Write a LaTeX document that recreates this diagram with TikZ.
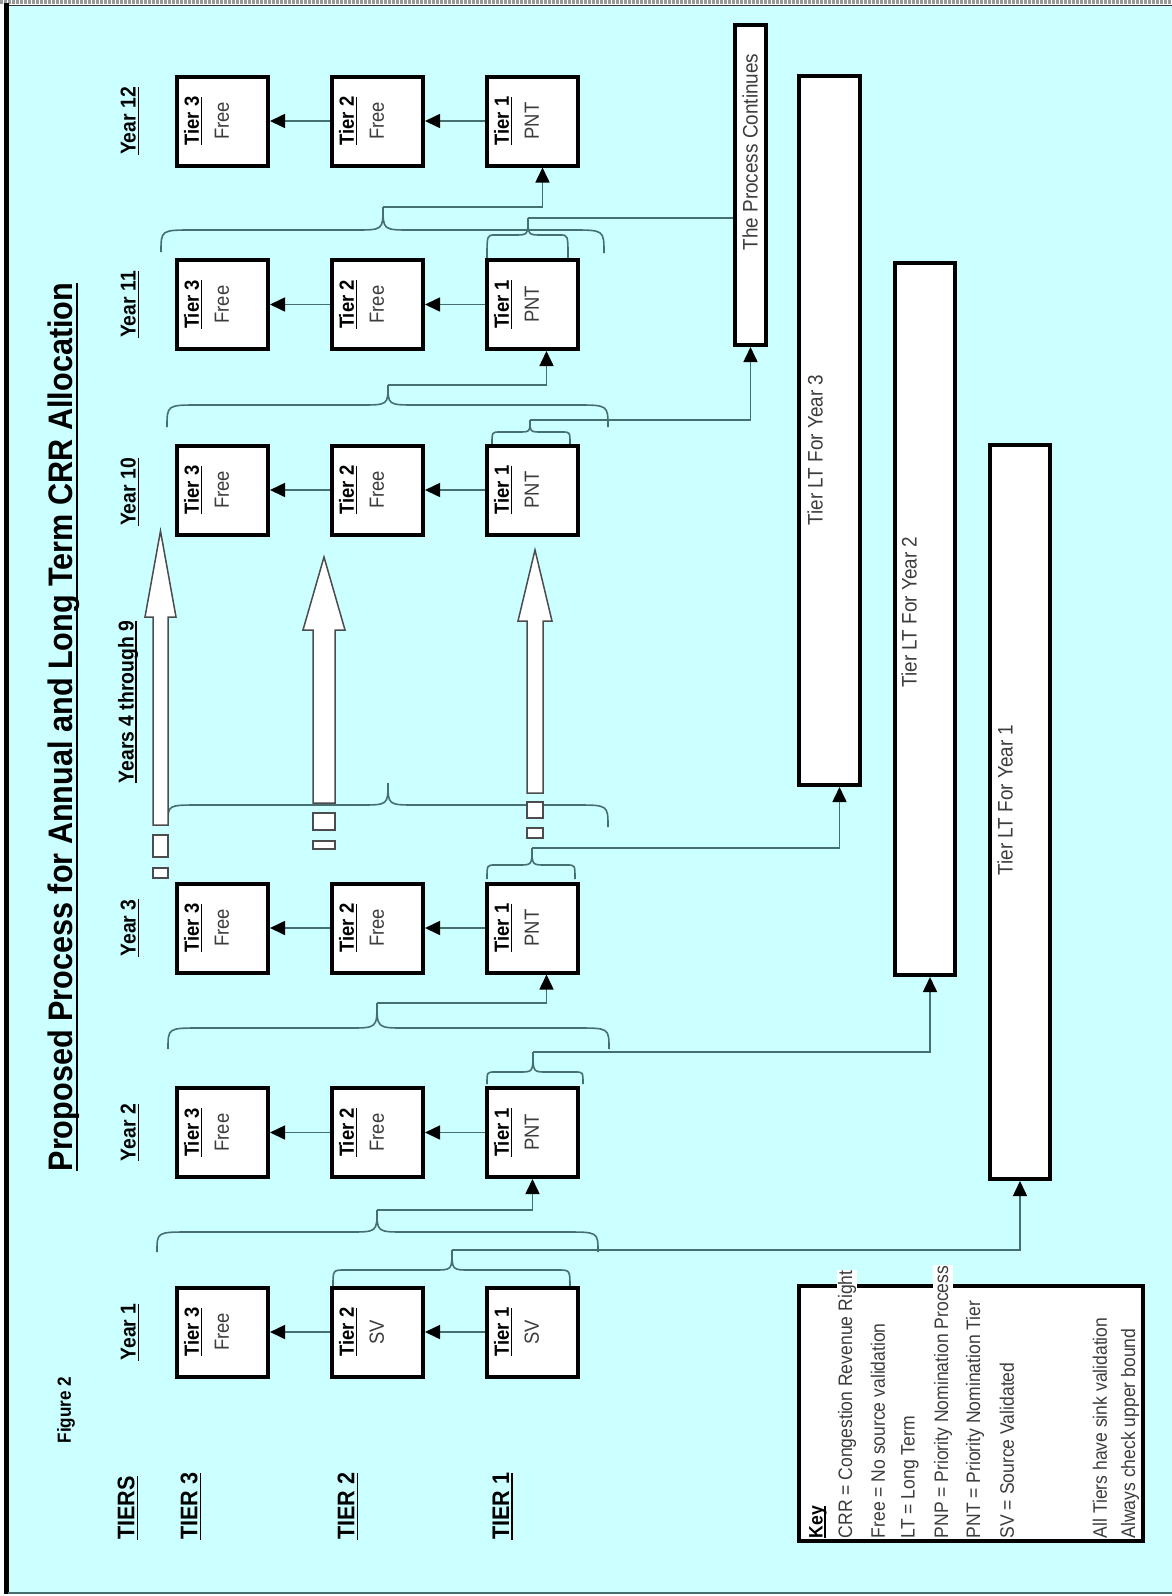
\documentclass[tikz,border=0pt]{standalone}
\usepackage{fontspec}
\setmainfont[FakeStretch=0.9]{Liberation Sans}
\usetikzlibrary{arrows.meta,calc}
\definecolor{bgcyan}{RGB}{204,255,255}
\definecolor{linecol}{RGB}{70,112,112}
\definecolor{txtgray}{RGB}{60,60,60}
\newsavebox{\ulbox}
\newcommand{\ulx}[1]{\sbox{\ulbox}{#1}\rlap{\rule[-0.17em]{\wd\ulbox}{0.08em}}\usebox{\ulbox}}
\newcommand{\fsz}[2]{\fontsize{#1}{#2}\selectfont}
\newcommand{\crbrace}[9]{\draw[brc] (#1,#3) .. controls (#1,#5) .. ({#1+#8},#5) -- ({#6-#9},#5) .. controls (#6,#5) .. (#6,#7) .. controls (#6,#5) .. ({#6+#9},#5) -- ({#2-#8},#5) .. controls (#2,#5) .. (#2,#4);}
\newcommand{\yearcol}[4]{%
  \node[tbox] (#1t3) at (222.5,#2) {};
  \node[tbox] (#1t2) at (377.5,#2) {};
  \node[tbox] (#1t1) at (532.5,#2) {};
  \node[boxtxt] (#1t3x) at ($(#1t3.center)+(-16,0)$) {\ulx{\textbf{Tier 3}}\\[6pt]{\color{txtgray}Free}};
  \node[boxtxt] (#1t2x) at ($(#1t2.center)+(-16,0)$) {\ulx{\textbf{Tier 2}}\\[6pt]{\color{txtgray}#3}};
  \node[boxtxt] (#1t1x) at ($(#1t1.center)+(-16,0)$) {\ulx{\textbf{Tier 1}}\\[6pt]{\color{txtgray}#4}};
  \draw[arr] (#1t1.west) -- (#1t2.east);
  \draw[arr] (#1t2.west) -- (#1t3.east);
}
\begin{document}
\begin{tikzpicture}[x=1pt,y=-1pt,
  tbox/.style={draw=black,line width=4,fill=white,minimum width=91,minimum height=89,inner sep=0},
  lbox/.style={draw=black,line width=4,fill=white,inner sep=0},
  conn/.style={draw=linecol,line width=1.6},
  arr/.style={conn,-{Triangle[length=15pt,width=14pt,color=black,fill=black]}},
  brc/.style={draw=linecol,line width=1.6},
  hollow/.style={draw=black!70,line width=1.5,fill=white},
  boxtxt/.style={rotate=90,align=center,font=\fsz{20.5}{24},inner sep=0},
  ylab/.style={rotate=90,font=\fsz{21.5}{26}\bfseries,inner sep=0},
  tlab/.style={rotate=90,anchor=west,font=\fsz{24}{28}\bfseries,inner sep=0},
  lttxt/.style={rotate=90,font=\fsz{21}{25},text=txtgray,inner sep=0},
  keytxt/.style={rotate=90,anchor=west,font=\fsz{19.5}{23},text=txtgray,inner sep=0.5}]
\useasboundingbox (0,0) rectangle (1172,1596);
% background and frame
\fill[white] (0,0) rectangle (1172,1596);
\fill[bgcyan] (8,6) rectangle (1172,1592);
\draw[black!40,line width=4,dash pattern=on 3pt off 1pt] (0,2) -- (1172,2);
\draw[black!80,line width=1.2] (8,5.5) -- (1172,5.5);
\draw[black,line width=5] (6,3) -- (6,1594);
\draw[linecol,line width=2] (8,1592.5) -- (1172,1592.5);

% title and labels
\node[rotate=90,font=\fsz{34}{40}\bfseries,inner sep=0] (title) at (64,727) {\ulx{Proposed Process for Annual and Long Term CRR Allocation}};
\node[rotate=90,font=\fsz{19}{23}\bfseries,inner sep=0] (fig) at (66,1410) {Figure 2};
\node[tlab] (tiers) at (128,1540) {\ulx{TIERS}};
\node[tlab] (tier3) at (191,1540) {\ulx{TIER 3}};
\node[tlab] (tier2) at (348,1540) {\ulx{TIER 2}};
\node[tlab] (tier1) at (503,1540) {\ulx{TIER 1}};

\node[ylab] (lab1) at (130,1332) {\ulx{Year 1}};
\node[ylab] (lab2) at (130,1132.5) {\ulx{Year 2}};
\node[ylab] (lab3) at (130,928) {\ulx{Year 3}};
\node[ylab] (lab49) at (128,702) {\ulx{Years 4 through 9}};
\node[ylab] (lab10) at (130,492) {\ulx{Year 10}};
\node[ylab] (lab11) at (130,304.5) {\ulx{Year 11}};
\node[ylab] (lab12) at (130,121) {\ulx{Year 12}};

% braces
\crbrace{157}{598}{1252}{1252}{1232}{377}{1210}{32}{28}
\crbrace{168}{609}{1049}{1049}{1028}{377}{1003}{32}{28}
\crbrace{168}{608}{822}{827}{805}{388}{783}{32}{28}
\crbrace{167}{608}{427}{427}{405}{388}{385}{32}{28}
\crbrace{161}{604}{252}{253}{230}{383}{207}{32}{28}
\crbrace{333}{570}{1286}{1288}{1270}{452}{1250}{12}{18}
\crbrace{487}{583}{1084}{1084}{1072}{533}{1052}{8}{14}
\crbrace{487}{575}{879}{879}{865}{532}{848}{8}{14}
\crbrace{492}{570}{444}{444}{432}{530}{420}{8}{12}
\crbrace{487}{568}{258}{258}{235}{528}{218}{8}{14}
\coordinate (tb1) at (377,1210);
\coordinate (tb2) at (377,1003);
\coordinate (tb4) at (388,385);
\coordinate (tb5) at (383,207);
\coordinate (ts1) at (452,1250);
\coordinate (ts2) at (533,1052);
\coordinate (ts3) at (532,848);
\coordinate (ts10) at (530,420);
\coordinate (ts11) at (528,218);

% hollow arrows for years 4 through 9
\draw[hollow] (153,825) -- (153,617) -- (145,617) -- (160.5,531) -- (176,617) -- (168,617) -- (168,825) -- cycle;
\draw[hollow] (153,835) rectangle (168,857);
\draw[hollow] (153,868) rectangle (168,878);
\draw[hollow] (313,803) -- (313,630) -- (303,630) -- (324,557) -- (345,630) -- (335,630) -- (335,803) -- cycle;
\draw[hollow] (313,813) rectangle (335,830);
\draw[hollow] (313,841) rectangle (335,849);
\draw[hollow] (527,793) -- (527,621) -- (518,621) -- (535,550) -- (552,621) -- (543,621) -- (543,793) -- cycle;
\draw[hollow] (527,802) rectangle (543,818);
\draw[hollow] (527,828) rectangle (543,838);

% long term boxes and key
\node[lbox,minimum width=31,minimum height=320] (pc) at (750.5,185) {};
\node[lbox,minimum width=61,minimum height=709] (lt3) at (829.5,430.5) {};
\node[lbox,minimum width=60,minimum height=712] (lt2) at (925,619) {};
\node[lbox,minimum width=60,minimum height=734] (lt1) at (1020,812) {};
\node[lbox,minimum width=344,minimum height=255] (key) at (971,1413.5) {};
\node[lttxt] (pctx) at (750,152) {The Process Continues};
\node[lttxt] (lt3tx) at (815,450) {Tier LT For Year 3};
\node[lttxt] (lt2tx) at (909,612) {Tier LT For Year 2};
\node[lttxt] (lt1tx) at (1005,800) {Tier LT For Year 1};

\node[keytxt,text=black] (k1) at (818,1539) {\ulx{\textbf{Key}}};
\node[keytxt,fill=white] (k2) at (847,1539) {CRR = Congestion Revenue Right};
\node[keytxt] (k3) at (878,1539) {Free = No source validation};
\node[keytxt] (k4) at (910,1539) {LT = Long Term};
\node[keytxt,fill=white] (k5) at (943,1539) {PNP = Priority Nomination Process};
\node[keytxt] (k6) at (975,1539) {PNT = Priority Nomination Tier};
\node[keytxt] (k7) at (1007,1539) {SV = Source Validated};
\node[keytxt] (k8) at (1100,1539) {All Tiers have sink validation};
\node[keytxt] (k9) at (1130,1539) {Always check upper bound};

% year columns
\yearcol{y1}{1332}{SV}{SV}
\yearcol{y2}{1132.5}{Free}{PNT}
\yearcol{y3}{928}{Free}{PNT}
\yearcol{y10}{490}{Free}{PNT}
\yearcol{y11}{304.5}{Free}{PNT}
\yearcol{y12}{121}{Free}{PNT}

% connectors from braces
\draw[arr] (tb1) -| (y2t1.south);
\draw[arr] (tb2) -| ([xshift=14pt]y3t1.south);
\draw[arr] (tb4) -| ([xshift=14pt]y11t1.south);
\draw[arr] (tb5) -| ([xshift=10pt]y12t1.south);
\draw[arr] (ts1) -| (lt1.south);
\draw[arr] (ts2) -| ([xshift=5pt]lt2.south);
\draw[arr] (ts3) -| ([xshift=10pt]lt3.south);
\draw[arr] (ts10) -| (pc.south);
\draw[conn] (ts11) -- (ts11 -| pc.west);
\end{tikzpicture}
\end{document}
